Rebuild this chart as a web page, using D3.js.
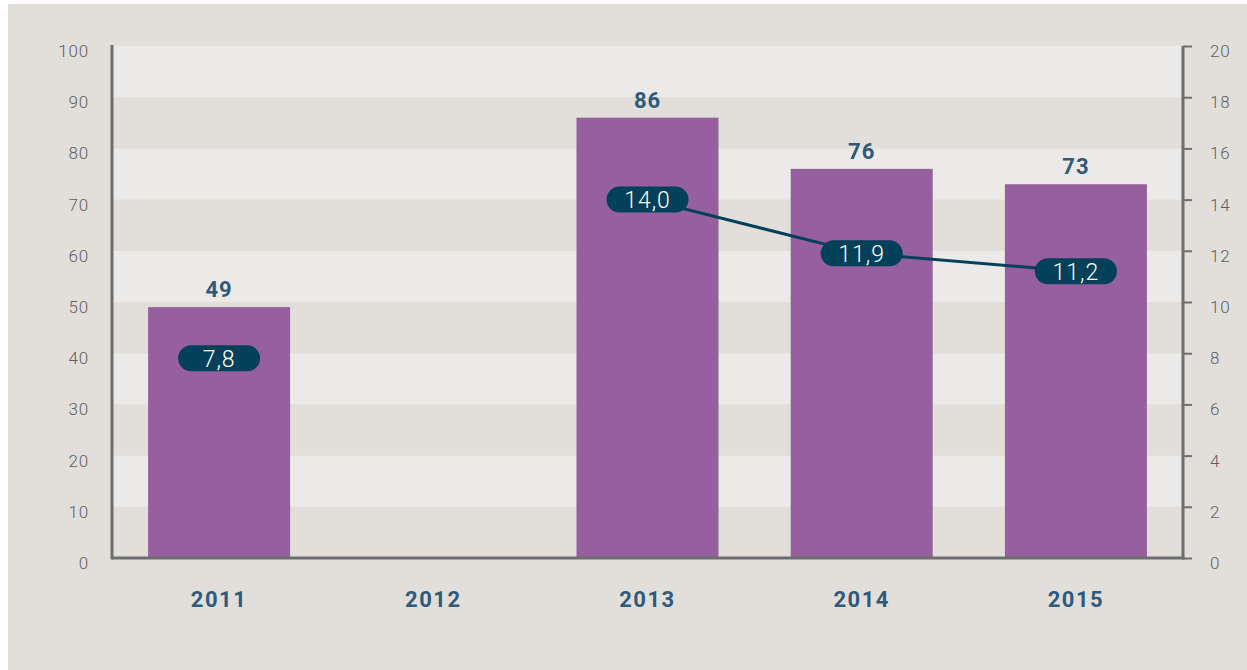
<!DOCTYPE html>
<html>
<head>
<meta charset="utf-8">
<script src="https://cdn.jsdelivr.net/npm/d3@7"></script>
<style>
  body { margin: 0; background: #fff; }
  svg { display: block; font-family: Roboto, "DejaVu Sans", sans-serif; }
</style>
</head>
<body>
<svg id="chart" width="1247" height="670"></svg>
<script>
// chart data
const years = ["2011", "2012", "2013", "2014", "2015"];
const barValues = [49, null, 86, 76, 73];
const lineValues = [7.8, null, 14.0, 11.9, 11.2];
const leftTicks = [0, 10, 20, 30, 40, 50, 60, 70, 80, 90, 100];
const rightTicks = [0, 2, 4, 6, 8, 10, 12, 14, 16, 18, 20];

const W = 1247, H = 670;
const m = { top: 46, right: 64, bottom: 112, left: 112 };

const svg = d3.select("#chart");

// outer panel
svg.append("rect")
    .attr("x", 8).attr("y", 4)
    .attr("width", W - 8).attr("height", H - 4)
    .attr("fill", "#e2dfdb");

let x = d3.scaleBand().domain(years)
    .range([m.left, W - m.right])
    .paddingInner(0.337).paddingOuter(0.1685);
let yL = d3.scaleLinear().domain([0, 100]).range([H - m.bottom, m.top]);
let yR = d3.scaleLinear().domain([0, 20]).range([H - m.bottom, m.top]);

// striped background bands
let bands = d3.range(0, 100, 10);
svg.append("g").selectAll("rect")
    .data(bands)
    .enter()
    .append("rect")
    .attr("x", m.left)
    .attr("width", W - m.right - m.left)
    .attr("y", d => yL(d + 10))
    .attr("height", d => yL(d) - yL(d + 10))
    .attr("fill", d => (d / 10) % 2 === 1 ? "#ebeae8" : "#e2dfdb");

// bars
let barData = years.map((y, i) => ({ year: y, v: barValues[i] })).filter(d => d.v != null);
svg.append("g").selectAll("rect")
    .data(barData)
    .enter()
    .append("rect")
    .attr("x", d => x(d.year))
    .attr("width", x.bandwidth())
    .attr("y", d => yL(d.v))
    .attr("height", d => yL(0) - yL(d.v))
    .attr("fill", "#965f9e");

svg.append("g").selectAll("text")
    .data(barData)
    .enter()
    .append("text")
    .attr("x", d => x(d.year) + x.bandwidth() / 2)
    .attr("y", d => yL(d.v) - 10)
    .attr("text-anchor", "middle")
    .attr("font-size", 22)
    .attr("font-weight", 700)
    .attr("letter-spacing", 1)
    .attr("fill", "#2f5a7c")
    .text(d => d.v);

// axes
let leftAxis = d3.axisLeft(yL).tickValues(leftTicks).tickSize(0).tickPadding(23);
let gl = svg.append("g").attr("transform", `translate(${m.left},0)`).call(leftAxis);

let rightAxis = d3.axisRight(yR).tickValues(rightTicks).tickSize(9).tickPadding(18);
let gr = svg.append("g").attr("transform", `translate(${W - m.right},0)`).call(rightAxis);

[gl, gr].forEach(g => {
    g.select(".domain").remove();
    g.selectAll(".tick line").attr("stroke", "#6d6e70").attr("stroke-width", 2);
    g.selectAll(".tick text")
        .attr("dy", "0.62em")
        .attr("font-size", 17)
        .attr("font-family", "Roboto, sans-serif")
        .attr("font-weight", 300)
        .attr("letter-spacing", 0.8)
        .attr("fill", "#5f6062");
});

// axis frame lines
svg.append("line")
    .attr("x1", m.left).attr("x2", m.left)
    .attr("y1", m.top - 1).attr("y2", yL(0) + 1.5)
    .attr("stroke", "#6d6e70").attr("stroke-width", 3);
svg.append("line")
    .attr("x1", W - m.right).attr("x2", W - m.right)
    .attr("y1", m.top).attr("y2", yL(0) + 1.5)
    .attr("stroke", "#6d6e70").attr("stroke-width", 3);
svg.append("line")
    .attr("x1", m.left).attr("x2", W - m.right + 1.5)
    .attr("y1", yL(0)).attr("y2", yL(0))
    .attr("stroke", "#6d6e70").attr("stroke-width", 3);

// year labels
svg.append("g").selectAll("text")
    .data(years)
    .enter()
    .append("text")
    .attr("x", d => x(d) + x.bandwidth() / 2)
    .attr("y", 607)
    .attr("text-anchor", "middle")
    .attr("font-size", 22)
    .attr("font-weight", 700)
    .attr("letter-spacing", 1.5)
    .attr("fill", "#2f5a7c")
    .text(d => d);

// line series (break where data is missing)
let lineData = years.map((y, i) => ({ year: y, v: lineValues[i] }));
let line = d3.line()
    .defined(d => d.v != null)
    .x(d => x(d.year) + x.bandwidth() / 2)
    .y(d => yR(d.v));
svg.append("path")
    .datum(lineData)
    .attr("d", line)
    .attr("fill", "none")
    .attr("stroke", "#03405a")
    .attr("stroke-width", 3);

let pills = svg.append("g").selectAll("g")
    .data(lineData.filter(d => d.v != null))
    .enter()
    .append("g")
    .attr("transform", d => `translate(${x(d.year) + x.bandwidth() / 2},${yR(d.v)})`);
pills.append("rect")
    .attr("x", -41).attr("y", -13)
    .attr("width", 82).attr("height", 26)
    .attr("rx", 13)
    .attr("fill", "#03405a");
pills.append("text")
    .attr("text-anchor", "middle")
    .attr("dy", "0.36em")
    .attr("font-size", 23)
    .attr("font-weight", 300)
    .attr("letter-spacing", 1)
    .attr("fill", "#fff")
    .text(d => d.v.toFixed(1).replace(".", ","));
</script>
</body>
</html>
